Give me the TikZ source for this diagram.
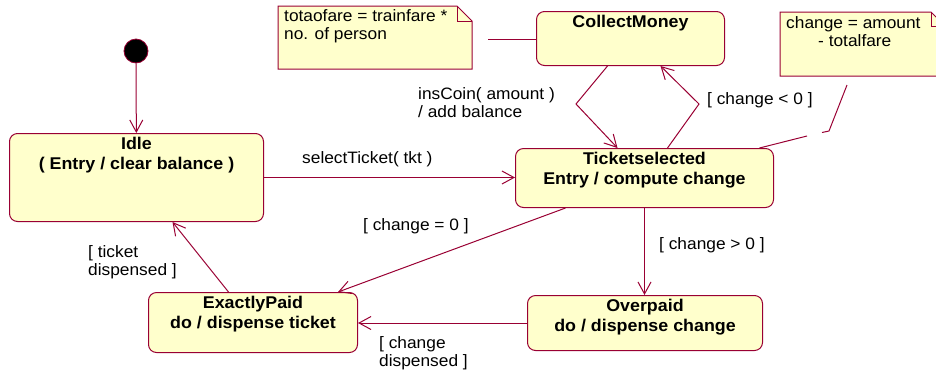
\documentclass[tikz,border=0pt]{standalone}
\usepackage{fontspec}
\setmainfont[FakeStretch=1.05]{Liberation Sans}
\usetikzlibrary{arrows.meta}
\definecolor{umlline}{RGB}{153,0,51}
\definecolor{umlfill}{RGB}{255,255,204}
\newcommand\stbox[3]{\parbox[t][#2][t]{#1}{\centering\bfseries\fontsize{17}{20}\selectfont\vspace*{3.5pt}#3\par}}
\begin{document}
\begin{tikzpicture}[x=1pt,y=-1pt,
  state/.style={draw=umlline, fill=umlfill, rounded corners=8pt, line width=1pt, inner sep=0pt, anchor=north west},
  trans/.style={draw=umlline, line width=1pt, -{Straight Barb[length=12pt,width=13pt,line width=1pt]}},
  conn/.style={draw=umlline, line width=1pt},
  notebox/.style={draw=umlline, fill=umlfill, line width=1pt, line join=miter},
  lbl/.style={font=\fontsize{16.5}{18}\selectfont, align=left, inner sep=0pt}]
\useasboundingbox (0,0) rectangle (936,376);

% notes
\draw[notebox] (278,6) -- (457,6) -- (472,21) -- (472,69) -- (278,69) -- cycle;
\draw[conn] (457,6) -- (457,21) -- (472,21);
\node[lbl, anchor=north west] (n1) at (284,9) {totaofare = trainfare *\\no. of person};
\begin{scope}
\clip (0,0) rectangle (936,376);
\draw[notebox] (780,12) -- (931,12) -- (945,26) -- (945,76) -- (780,76) -- cycle;
\draw[conn] (931,12) -- (931,26) -- (945,26);
\end{scope}
\node[lbl, anchor=north west] (n2) at (786,16) {change = amount\\\hspace*{32pt}- totalfare};

% initial state
\node[circle, fill=black, draw=umlline, line width=0.8pt, minimum size=24pt, inner sep=0pt] (init) at (136,51) {};

% states
\node[state] (idle) at (9,133) {\stbox{254pt}{88pt}{Idle\\( Entry / clear balance )}};
\node[state] (cm) at (536,11) {\stbox{188pt}{54pt}{CollectMoney}};
\node[state] (ts) at (515,148) {\stbox{258pt}{59pt}{Ticketselected\\Entry / compute change}};
\node[state] (ep) at (148,292) {\stbox{209pt}{60pt}{ExactlyPaid\\do / dispense ticket}};
\node[state] (op) at (527,295) {\stbox{235pt}{55pt}{Overpaid\\do / dispense change}};

% transitions
\draw[trans] (init) -- (idle);
\draw[trans] (idle.east) -- (idle.east -| ts.west);
\draw[trans] ([xshift=-23pt]cm.south) -- (576,104) -- ([xshift=-27pt]ts.north);
\draw[trans] ([xshift=23pt]ts.north) -- (699,104) -- ([xshift=30pt]cm.south);
\draw[trans] ([xshift=-79pt]ts.south) -- ([xshift=85pt]ep.north);
\draw[trans] (ts.south) -- (ts.south |- op.north);
\draw[trans] ([xshift=-24.5pt]ep.north) -- ([xshift=36pt]idle.south);
\draw[trans] (op.west) -- (op.west -| ep.east);

% note connectors
\coordinate (n1c) at (488,39);
\draw[conn] (n1c) -- (n1c -| cm.west);
\coordinate (n2a) at (847,85);
\coordinate (n2b) at (829,131);
\coordinate (n2c) at (807,136);
\draw[conn] (n2a) -- (n2b) -- (822,132.5);
\draw[conn] (n2c) -- ([xshift=115pt]ts.north);

% labels
\node[lbl, anchor=west] (l1) at (302,159) {selectTicket( tkt )};
\node[lbl, anchor=west] (l2) at (418,103) {insCoin( amount )\\/ add balance};
\node[lbl, anchor=west] (l3) at (707,100) {[ change < 0 ]};
\node[lbl, anchor=west] (l4) at (363,226) {[ change = 0 ]};
\node[lbl, anchor=west] (l5) at (659,245) {[ change > 0 ]};
\node[lbl, anchor=west] (l6) at (88,262) {[ ticket\\dispensed ]};
\node[lbl, anchor=west] (l7) at (379,353) {[ change\\dispensed ]};
\end{tikzpicture}
\end{document}
